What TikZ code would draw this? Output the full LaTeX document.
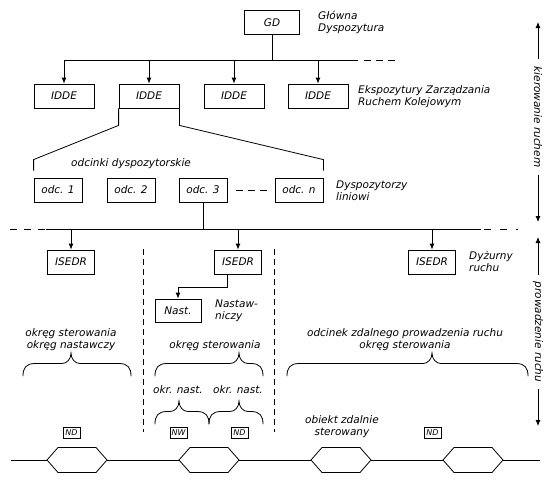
\documentclass[tikz,border=0pt]{standalone}
\usepackage{fontspec}
\setmainfont{DejaVu Sans}
\usetikzlibrary{arrows.meta,calc}
\newcommand\cbrace[4]{%
  \draw[curly] (#1,#4+23) .. controls (#1,#4+15) and (#1+3,#4+10.5) .. (#1+12,#4+10.5)
    -- (#3-9,#4+10.5) .. controls (#3-4,#4+10.5) and (#3,#4+6) .. (#3,#4)
    .. controls (#3,#4+6) and (#3+4,#4+10.5) .. (#3+9,#4+10.5)
    -- (#2-12,#4+10.5) .. controls (#2-3,#4+10.5) and (#2,#4+15) .. (#2,#4+23);}
\newcommand\hexa[2]{%
  \draw[hexline] (#1-30,#2) -- (#1-19,#2-12.5) -- (#1+19,#2-12.5) -- (#1+30,#2)
    -- (#1+19,#2+12.5) -- (#1-19,#2+12.5) -- cycle;}
\begin{document}
\begin{tikzpicture}[x=1pt,y=-1pt,
  every node/.style={font=\fontsize{10.5}{12}\selectfont\itshape, inner sep=0pt},
  box/.style={draw, line width=0.8pt, minimum height=24pt},
  small/.style={draw, line width=0.7pt, font=\fontsize{8}{9}\selectfont\itshape, minimum width=17pt, minimum height=11pt},
  lbl/.style={align=left, anchor=west},
  ctr/.style={align=center},
  ln/.style={line width=0.8pt},
  dln/.style={line width=0.8pt, dash pattern=on 7pt off 5pt},
  vdash/.style={line width=0.8pt, dash pattern=on 6pt off 4pt},
  arr/.style={line width=0.8pt, -{Latex[length=6pt,width=5pt]}},
  curly/.style={line width=0.8pt, line cap=round},
  hexline/.style={line width=0.8pt, fill=white},
  side/.style={rotate=-90, inner xsep=7pt},
]
\useasboundingbox (0,0) rectangle (550,480);

% top level
\node[box, minimum width=55] (gd) at (272,22.5) {GD};
\node[lbl] (gdl) at (318,22) {Główna\\Dyspozytura};
\coordinate (hj) at (272,60);
\coordinate (hE) at (358,60);
\coordinate (hD1) at (364,60);
\coordinate (hD2) at (397,60);

\node[box, minimum width=60] (i1) at (64,96) {IDDE};
\node[box, minimum width=60] (i2) at (149,96) {IDDE};
\node[box, minimum width=60] (i3) at (234,96) {IDDE};
\node[box, minimum width=60] (i4) at (318,96) {IDDE};
\node[lbl] (il) at (358,97) {Ekspozytury Zarządzania\\Ruchem Kolejowym};

\draw[ln] (gd.south) -- (hj);
\draw[ln] (i1.north |- hj) -- (hE);
\draw[dln] (hD1) -- (hD2);
\foreach \n in {i1,i2,i3,i4} \draw[arr] (\n.north |- hj) -- (\n.north);

% dispatcher sections
\node[box, minimum width=48] (o1) at (58,190) {odc. 1};
\node[box, minimum width=48] (o2) at (131,190) {odc. 2};
\node[box, minimum width=48] (o3) at (203,190) {odc. 3};
\node[box, minimum width=48] (on) at (299,190) {odc. n};
\node[lbl] (ol) at (336,191) {Dyspozytorzy\\liniowi};
\node[lbl] (odl) at (71,164) {odcinki dyspozytorskie};

\draw[ln] (i2.south west) -- ++(0,17) -- ($(o1.north west)+(0,-18)$) -- ($(o1.north west)+(0,-7)$);
\draw[ln] (i2.south east) -- ++(0,17) -- ($(on.north east)+(0,-18)$) -- ($(on.north east)+(0,-7)$);
\draw[dln] ($(o3.east)+(9,0)$) -- ($(on.west)+(-7,0)$);

% second distribution line
\coordinate (bj) at (203,229);
\coordinate (bL) at (46,229);
\coordinate (bR) at (481,229);
\draw[ln] (o3.south) -- (bj);
\draw[ln] (bL) -- (bR);
\draw[line width=0.8pt, dash pattern=on 7pt off 7pt] (10,229) -- (bL);
\draw[line width=0.8pt, dash pattern=on 0pt off 3pt on 7pt off 6pt] (bR) -- (518,229);

\node[box, minimum width=47] (s1) at (71,262) {ISEDR};
\node[box, minimum width=47] (s2) at (238,262) {ISEDR};
\node[box, minimum width=47] (s3) at (432,262) {ISEDR};
\node[lbl] (sl) at (469,262) {Dyżurny\\ruchu};
\foreach \n in {s1,s2,s3} \draw[arr] (\n.north |- bj) -- (\n.north);

\node[box, minimum width=46, minimum height=23] (na) at (178,310.5) {Nast.};
\node[lbl] (nal) at (215,311) {Nastaw-\\niczy};
\coordinate (nk) at (227,287);
\draw[arr] ($(s2.south)+(-11,0)$) -- (nk) -- (na.north |- nk) -- (na.north);

% zone separators
\draw[vdash] (143,249) -- (143,432);
\draw[vdash] (274,249) -- (274,432);

\node[ctr] (t1) at (71,340) {okręg sterowania\\okręg nastawczy};
\node[ctr] (t2) at (215,346) {okręg sterowania};
\node[ctr] (t3) at (405,340) {odcinek zdalnego prowadzenia ruchu\\okręg sterowania};
\node (t4) at (178,390) {okr. nast.};
\node (t5) at (238,390) {okr. nast.};
\node[ctr] (t6) at (342,427) {obiekt zdalnie\\sterowany};

\cbrace{23}{131}{71}{353}
\cbrace{155}{263}{239}{353}
\cbrace{287}{528}{432}{353}
\cbrace{155}{209}{179}{401}
\cbrace{209}{263}{239}{401}

\node[small] (nd1) at (71.5,433) {ND};
\node[small] (nw) at (178.5,433) {NW};
\node[small] (nd2) at (239.5,433) {ND};
\node[small] (nd3) at (432.5,433) {ND};

% track
\draw[ln] (11,460) -- (540,460);
\hexa{77}{460}
\hexa{209}{460}
\hexa{341}{460}
\hexa{473}{460}

% side arrows
\node[side] (kr) at (538,117) {kierowanie ruchem};
\coordinate (kt) at (538,22);
\coordinate (kb) at (538,222);
\draw[arr] (kr.west) -- (kt);
\draw[arr] (kr.east) -- (kb);
\node[side] (pr) at (538,332) {prowadzenie ruchu};
\coordinate (pt) at (538,237);
\coordinate (pb) at (538,426);
\draw[arr] (pr.west) -- (pt);
\draw[arr] (pr.east) -- (pb);
\end{tikzpicture}
\end{document}
